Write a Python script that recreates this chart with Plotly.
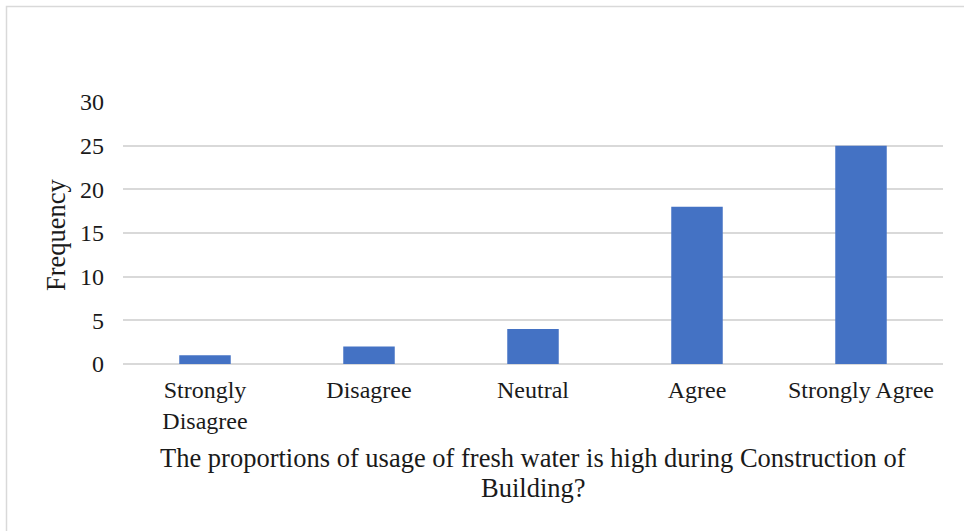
import plotly.graph_objects as go

# Survey responses
categories = ["Strongly<br>Disagree", "Disagree", "Neutral", "Agree", "Strongly Agree"]
frequency = [1, 2, 4, 18, 25]
y_ticks = [0, 5, 10, 15, 20, 25, 30]

y_title = "Frequency"
x_title_lines = [
    "The proportions of usage of fresh water is high during Construction of",
    "Building?",
]

W, H = 964, 531
L, R, T, B = 123, 21, 102, 167
pw, ph = W - L - R, H - T - B

fig = go.Figure(
    go.Bar(
        x=categories,
        y=frequency,
        marker=dict(color="#4472C4", line=dict(width=0)),
        hoverinfo="x+y",
    )
)

font_family = "Liberation Serif, Times New Roman, serif"
title_font = dict(size=26.5, family=font_family, color="#1a1a1a")

fig.update_layout(
    width=W,
    height=H,
    margin=dict(l=L, r=R, t=T, b=B),
    paper_bgcolor="white",
    plot_bgcolor="white",
    bargap=0.686,
    showlegend=False,
    font=dict(family=font_family, color="#1a1a1a", size=24),
    xaxis=dict(
        showgrid=False,
        showline=False,
        ticks="",
        tickfont=dict(size=24),
        ticklabelstandoff=9,
    ),
    yaxis=dict(
        range=[0, 30],
        tickvals=y_ticks,
        showgrid=True,
        gridcolor="#d9d9d9",
        gridwidth=1.5,
        zeroline=True,
        zerolinecolor="#d9d9d9",
        zerolinewidth=1.5,
        showline=False,
        ticks="",
        tickfont=dict(size=24),
        ticklabelstandoff=18,
    ),
)

# Y axis title
fig.add_annotation(
    text=y_title,
    xref="paper", yref="paper",
    x=(56 - L) / pw, y=(H - B - 235) / ph,
    xanchor="center", yanchor="middle",
    textangle=-90,
    showarrow=False,
    font=title_font,
)

# X axis title, set line by line for tighter leading
for i, line in enumerate(x_title_lines):
    y_px = 458 + 30 * i
    fig.add_annotation(
        text=line,
        xref="paper", yref="paper",
        x=0.5, y=(H - B - y_px) / ph,
        xanchor="center", yanchor="middle",
        showarrow=False,
        font=title_font,
    )

# Chart frame (left and top edges fall inside the page)
fig.add_shape(
    type="rect",
    xref="paper", yref="paper",
    x0=(6.5 - L) / pw, x1=(975 - L) / pw,
    y0=(H - B - 545) / ph, y1=(H - B - 6.5) / ph,
    line=dict(color="#d9d9d9", width=1.5),
    fillcolor="rgba(0,0,0,0)",
    layer="below",
)

fig.write_html("out.html")
